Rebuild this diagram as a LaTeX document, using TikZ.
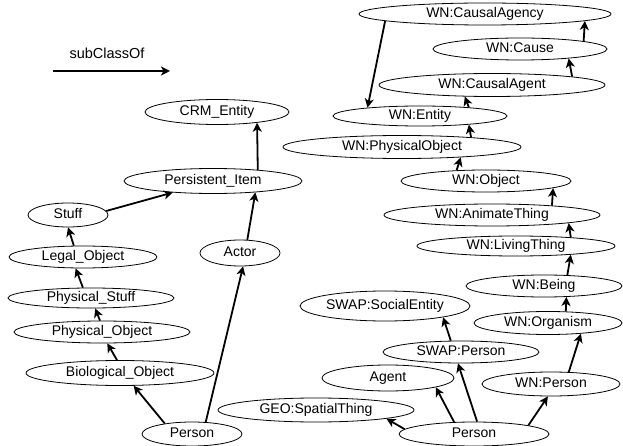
\documentclass[tikz,border=0pt]{standalone}
\usepackage{fontspec}
\setmainfont{Liberation Sans}
\usetikzlibrary{shapes.geometric,arrows.meta}
\begin{document}
\begin{tikzpicture}[x=1pt,y=-1pt,
  cls/.style={draw,ellipse,inner sep=0pt,line width=0.8pt,text height=10pt,text depth=3pt,font=\fontsize{14}{16}\selectfont},
  lbl/.style={font=\fontsize{14.5}{16}\selectfont,inner sep=0pt},
  sub/.style={-{Stealth[length=9pt,width=9pt,inset=2.5pt]},line width=1.8pt}
]
\useasboundingbox (0,0) rectangle (623,446);
% legend
\node[lbl] (legend) at (107,53) {subClassOf};
\coordinate (l1) at (53,71);
\coordinate (l2) at (170,71);
\draw[sub] (l1) -- (l2);
% left part
\node[cls,minimum width=144pt,minimum height=25pt] (crm) at (217,112) {CRM\_Entity};
\node[cls,minimum width=178pt,minimum height=25pt] (pers) at (213,181) {Persistent\_Item};
\node[cls,minimum width=80pt,minimum height=24pt] (stuff) at (68,215) {Stuff};
\node[cls,minimum width=148pt,minimum height=22pt] (legal) at (83,257) {Legal\_Object};
\node[cls,minimum width=166pt,minimum height=20pt] (pstuff) at (91,298) {Physical\_Stuff};
\node[cls,minimum width=176pt,minimum height=22pt] (pobj) at (102,332) {Physical\_Object};
\node[cls,minimum width=188pt,minimum height=25pt] (bio) at (120,373) {Biological\_Object};
\node[cls,minimum width=100pt,minimum height=24pt] (personL) at (192,434) {Person};
\node[cls,minimum width=80pt,minimum height=26pt] (actor) at (240,253) {Actor};
\node[cls,minimum width=196pt,minimum height=24pt] (geo) at (316,410) {GEO:SpatialThing};
% right part
\node[cls,minimum width=252pt,minimum height=22pt] (agency) at (485,14) {WN:CausalAgency};
\node[cls,minimum width=174pt,minimum height=22pt] (cause) at (520,49) {WN:Cause};
\node[cls,minimum width=226pt,minimum height=23pt] (cagent) at (492,85) {WN:CausalAgent};
\node[cls,minimum width=174pt,minimum height=20pt] (wnentity) at (420,116) {WN:Entity};
\node[cls,minimum width=238pt,minimum height=23pt] (wnpobj) at (402,147) {WN:PhysicalObject};
\node[cls,minimum width=170pt,minimum height=22pt] (wnobj) at (486,181) {WN:Object};
\node[cls,minimum width=216pt,minimum height=22pt] (animate) at (492,215) {WN:AnimateThing};
\node[cls,minimum width=198pt,minimum height=20pt] (living) at (516,246) {WN:LivingThing};
\node[cls,minimum width=156pt,minimum height=22pt] (being) at (544,286) {WN:Being};
\node[cls,minimum width=148pt,minimum height=23pt] (organism) at (548,323) {WN:Organism};
\node[cls,minimum width=170pt,minimum height=30pt] (socent) at (385,306) {SWAP:SocialEntity};
\node[cls,minimum width=156pt,minimum height=22pt] (swapp) at (461,352) {SWAP:Person};
\node[cls,minimum width=132pt,minimum height=26pt] (agent) at (388,378) {Agent};
\node[cls,minimum width=138pt,minimum height=24pt] (wnperson) at (551,384) {WN:Person};
\node[cls,minimum width=150pt,minimum height=24pt] (personR) at (474,434) {Person};
% connectors, left
\draw[sub] (pers.14.7) -- (crm.-15.6);
\draw[sub] (stuff.6) -- (pers.-164.4);
\draw[sub] (legal.129.7) -- (stuff.south);
\draw[sub] (pstuff.128.8) -- (legal.237.4);
\draw[sub] (pobj.100) -- (pstuff.-68);
\draw[sub] (bio.103.5) -- (pobj.-65.6);
\draw[sub] (personL.159.5) -- (bio.-43.6);
\draw[sub] (personL.41.7) -- (actor.-77);
\draw[sub] (actor.61.3) -- (pers.-15.6);
% connectors, right
\draw[sub] (agency.-176.8) -- (wnentity.171);
\draw[sub] (cause.7.3) -- (agency.-4.2);
\draw[sub] (cagent.6.7) -- (cause.-11.4);
\draw[sub] (wnentity.10.8) -- (cagent.-157.5);
\draw[sub] (wnpobj.8.8) -- (wnentity.-10.8);
\draw[sub] (wnobj.160.4) -- (wnpobj.-10.5);
\draw[sub] (animate.9.5) -- (wnobj.-6.9);
\draw[sub] (living.9.8) -- (animate.-6.2);
\draw[sub] (being.25.6) -- (living.-9.8);
\draw[sub] (organism.33.4) -- (being.-26.8);
\draw[sub] (wnperson.34.3) -- (organism.-18);
\draw[sub] (personR.9.4) -- (wnperson.-104);
\draw[sub] (personR.76) -- (swapp.-105.3);
\draw[sub] (personR.149.9) -- (agent.-11.4);
\draw[sub] (personR.176.9) -- (geo.-7.2);
\draw[sub] (swapp.132.5) -- (socent.-11.4);
\end{tikzpicture}
\end{document}
